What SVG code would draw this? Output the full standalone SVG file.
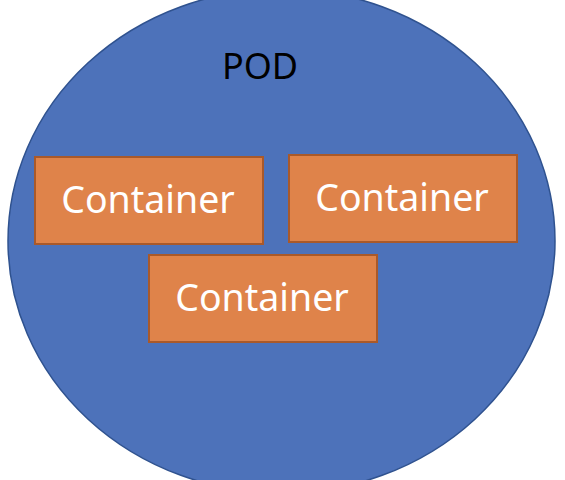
<svg xmlns="http://www.w3.org/2000/svg" width="565" height="480" viewBox="0 0 565 480">
<style>
.pod{fill:#4D72BA;stroke:#2F528F;stroke-width:1.5}
.box{fill:#DF834A;stroke:#A9592A;stroke-width:2}
.lbl{font-family:"Noto Sans","Open Sans",sans-serif;font-size:37.5px;fill:#FFFFFF;text-anchor:middle}
.podlbl{font-family:"Noto Sans","Open Sans",sans-serif;font-size:36px;fill:#000000;text-anchor:middle}
</style>
<rect width="565" height="480" fill="#FFFFFF"/>
<g id="pod">
<ellipse class="pod" cx="281.5" cy="241" rx="273.5" ry="252"/>
<text class="podlbl" x="260" y="79">POD</text>
</g>
<g id="container1">
<rect class="box" x="35" y="157" width="228" height="87"/>
<text class="lbl" x="148" y="213">Container</text>
</g>
<g id="container2">
<rect class="box" x="289" y="155" width="228" height="87"/>
<text class="lbl" x="402" y="211">Container</text>
</g>
<g id="container3">
<rect class="box" x="149" y="255" width="228" height="87"/>
<text class="lbl" x="262" y="311">Container</text>
</g>
<g id="connectors"/>
</svg>
